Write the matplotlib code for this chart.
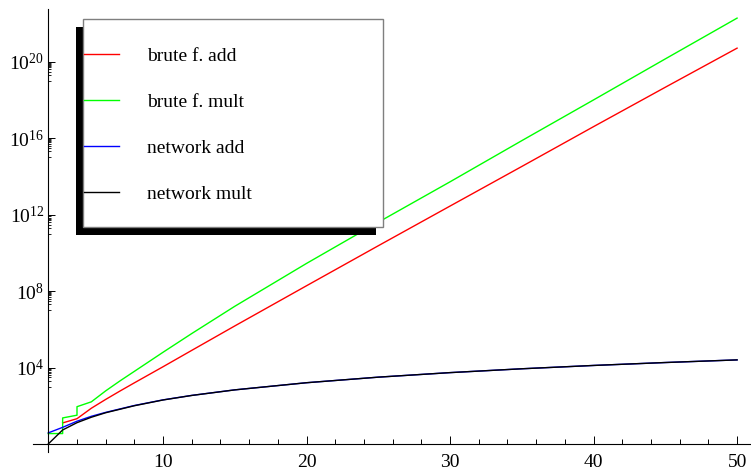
import matplotlib
matplotlib.use("Agg")
import matplotlib.pyplot as plt
from matplotlib.patches import Rectangle
from matplotlib.lines import Line2D
from matplotlib.ticker import FixedLocator, NullFormatter

plt.rcParams['font.family'] = ['Liberation Serif', 'DejaVu Serif']
plt.rcParams['mathtext.fontset'] = 'custom'
plt.rcParams['mathtext.rm'] = 'Liberation Serif'
plt.rcParams['mathtext.it'] = 'Liberation Serif:italic'
plt.rcParams['mathtext.default'] = 'regular'

# ---- data ----
brute_add_x = [3, 4, 5, 6, 7, 8, 10, 12, 15, 20, 25, 30, 35, 40, 45, 50]
brute_add_y = [12.6, 21, 74, 214, 590, 1580, 1.1e4, 7.9e4, 1.5e6, 1.9e8,
               2.35e10, 2.8e12, 3.3e14, 4.0e16, 4.6e18, 5.1e20]

brute_mult_x = [2, 3, 3, 4, 4, 5, 6, 7, 8, 10, 12, 15, 20, 25, 30, 35, 40, 45, 50]
brute_mult_y = [3.5, 3.5, 23, 32, 89, 160, 600, 2000, 6300, 6.3e4, 6.0e5, 1.6e7,
                2.8e9, 4.0e11, 5.2e13, 7.4e15, 1.0e18, 1.4e20, 1.9e22]

net_x = [2, 3, 4, 5, 6, 8, 10, 12, 15, 20, 25, 30, 35, 40, 45, 50]
net_add_y = [3.8, 7.4, 15.5, 28, 45, 103, 203, 348, 678, 1600, 3130, 5400,
             8580, 12800, 18200, 25000]
net_mult_y = [1.0, 5.4, 13, 25, 43, 100, 200, 345, 675, 1600, 3125, 5400,
              8575, 12800, 18225, 25000]

series_labels = ["brute f. add", "brute f. mult", "network add", "network mult"]
series_colors = ["#ff0000", "#00ff00", "#0000ff", "#000000"]

x_major = [10, 20, 30, 40, 50]
x_minor = [4, 6, 8, 12, 14, 16, 18, 22, 24, 26, 28, 32, 34, 36, 38, 42, 44, 46, 48]
y_major_exp = [4, 8, 12, 16, 20]

W, H = 751, 471
fig = plt.figure(figsize=(W / 100, H / 100), dpi=100)
ax = fig.add_axes([33.3 / W, (H - 451.7) / H, (W - 33.3) / W, (451.7 - 9.3) / H])
ax.set_yscale('log')

ax.plot(brute_add_x, brute_add_y, color=series_colors[0], lw=1.0)
ax.plot(brute_mult_x, brute_mult_y, color=series_colors[1], lw=1.0)
ax.plot(net_x, net_add_y, color=series_colors[2], lw=1.0)
ax.plot(net_x, net_mult_y, color=series_colors[3], lw=1.0)

ax.set_xlim(0.955, 50.97)
ax.set_ylim(10 ** -0.405, 10 ** 22.74)

for s in ['top', 'right']:
    ax.spines[s].set_visible(False)
ax.spines['left'].set_position(('data', 2))
ax.spines['bottom'].set_position(('data', 1))
for s in ['left', 'bottom']:
    ax.spines[s].set_linewidth(0.8)

ax.xaxis.set_major_locator(FixedLocator(x_major))
ax.xaxis.set_minor_locator(FixedLocator(x_minor))
ax.set_xticklabels([str(v) for v in x_major])
ax.xaxis.set_minor_formatter(NullFormatter())

y_major = [10.0 ** e for e in y_major_exp]
y_minor = [k * 10.0 ** (e - 1) for e in y_major_exp for k in range(1, 10)]
ax.yaxis.set_major_locator(FixedLocator(y_major))
ax.yaxis.set_minor_locator(FixedLocator(y_minor))
ax.set_yticklabels([r'$10^{%d}$' % e for e in y_major_exp])
ax.yaxis.set_minor_formatter(NullFormatter())

ax.tick_params(axis='x', which='major', direction='in', length=5.8, width=0.7,
               pad=7, labelsize=14)
ax.tick_params(axis='x', which='minor', direction='in', length=3.6, width=0.7)
ax.tick_params(axis='y', which='major', direction='in', length=5.0, width=0.7,
               pad=3, labelsize=14)
ax.tick_params(axis='y', which='minor', direction='in', length=2.5, width=0.6)

# ---- legend (Mathematica-style shadow box) ----
def fx(x):
    return x / W

def fy(y):
    return 1 - y / H

fig.add_artist(Rectangle((fx(76), fy(235)), fx(376) - fx(76), fy(26.7) - fy(235),
                         transform=fig.transFigure, facecolor='black',
                         edgecolor='none', zorder=5))
fig.add_artist(Rectangle((fx(83.3), fy(227.3)), fx(382.7) - fx(83.3),
                         fy(19.3) - fy(227.3), transform=fig.transFigure,
                         facecolor='white', edgecolor='#7f7f7f', lw=1.0, zorder=6))
rows = [54, 100, 146, 192]
for lab, col, yy in zip(series_labels, series_colors, rows):
    fig.add_artist(Line2D([fx(83.5), fx(118.7)], [fy(yy), fy(yy)],
                          transform=fig.transFigure, color=col, lw=1.0, zorder=7))
    fig.text(fx(146.7), fy(yy + 6.8), lab, fontsize=14, va='baseline',
             ha='left', zorder=7)

fig.savefig("out.png", dpi=100)
